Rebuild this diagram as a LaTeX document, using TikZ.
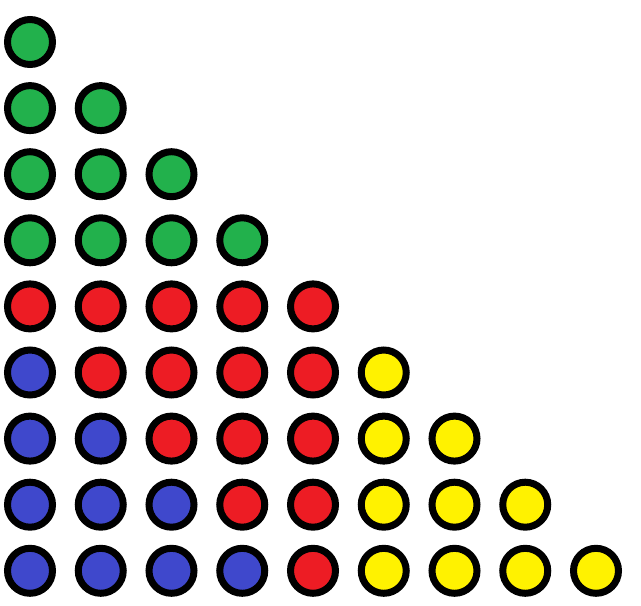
\documentclass[tikz,border=0pt]{standalone}
\definecolor{cg}{RGB}{34,177,76}
\definecolor{cr}{RGB}{237,28,36}
\definecolor{cb}{RGB}{63,72,204}
\definecolor{cy}{RGB}{255,242,0}
\begin{document}
\begin{tikzpicture}[x=1pt,y=-1pt,
  dot/.style={circle, draw=black, line width=7pt, minimum size=45pt, inner sep=0pt}]
\useasboundingbox (0,0) rectangle (641,606);
\foreach \rw/\cl in {0/{cg},1/{cg,cg},2/{cg,cg,cg},3/{cg,cg,cg,cg},4/{cr,cr,cr,cr,cr},5/{cb,cr,cr,cr,cr,cy},6/{cb,cb,cr,cr,cr,cy,cy},7/{cb,cb,cb,cr,cr,cy,cy,cy},8/{cb,cb,cb,cb,cr,cy,cy,cy,cy}}{
  \foreach \c [count=\i from 0] in \cl {
    \node[dot, fill=\c] (n\rw-\i) at ({30+70.75*\i},{42+66.1*\rw}) {};
  }
}
\end{tikzpicture}
\end{document}
